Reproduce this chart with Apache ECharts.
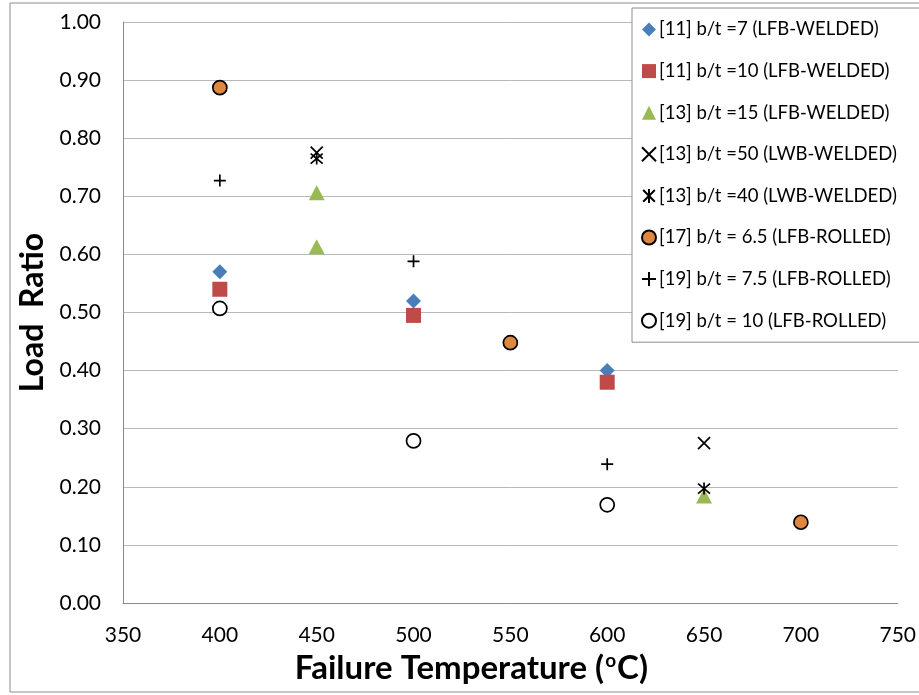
<!DOCTYPE html>
<html>
<head>
<meta charset="utf-8">
<script src="https://cdn.jsdelivr.net/npm/echarts@6/dist/echarts.min.js"></script>
<style>
  html, body { margin: 0; padding: 0; background: #fff; }
  #chart { width: 919px; height: 695px; }
</style>
</head>
<body>
<div id="chart"></div>
<script>
// 数据：每个系列一组 [温度, 荷载比]
const seriesNames = [
  '[11] b/t =7 (LFB-WELDED)',
  '[11] b/t =10 (LFB-WELDED)',
  '[13] b/t =15 (LFB-WELDED)',
  '[13] b/t =50 (LWB-WELDED)',
  '[13] b/t =40 (LWB-WELDED)',
  '[17] b/t = 6.5 (LFB-ROLLED)',
  '[19] b/t = 7.5 (LFB-ROLLED)',
  '[19] b/t = 10 (LFB-ROLLED)'
]
const bt7Welded = [[400, 0.57], [500, 0.52], [600, 0.40]]
const bt10Welded = [[400, 0.54], [500, 0.495], [600, 0.38]]
const bt15Welded = [[450, 0.706], [450, 0.613], [650, 0.184]]
const bt50Lwb = [[450, 0.775], [650, 0.275]]
const bt40Lwb = [[450, 0.765], [650, 0.197]]
const bt65Rolled = [[400, 0.887], [550, 0.448], [700, 0.139]]
const bt75Rolled = [[400, 0.727], [500, 0.588], [600, 0.239]]
const bt10Rolled = [[400, 0.507], [500, 0.279], [600, 0.169]]
const xTicks = [350, 400, 450, 500, 550, 600, 650, 700, 750]
const yTicks = [0, 0.1, 0.2, 0.3, 0.4, 0.5, 0.6, 0.7, 0.8, 0.9, 1.0]

const crossPath = 'path://M0,0L10,10M10,0L0,10'
const starPath = 'path://M0,0L10,10M10,0L0,10M5,-1L5,11'
const plusPath = 'path://M5,0L5,10M0,5L10,5'

const chart = echarts.init(document.getElementById('chart'))

// 线条型标记（×、*、+）
const lineStyleMark = (path, size) => ({
  symbol: path,
  symbolSize: size,
  itemStyle: { color: 'rgba(0,0,0,0)', borderColor: '#000', borderWidth: 1.7, opacity: 1 }
})

const option = {
  animation: false,
  textStyle: { fontFamily: 'Lato' },
  graphic: [
    {
      type: 'rect',
      shape: { x: 10, y: 3, width: 930, height: 689 },
      style: { fill: 'none', stroke: '#8c8c8c', lineWidth: 1 },
      z: -1
    }
  ],
  grid: { left: 123, right: 17, top: 22, bottom: 92 },
  xAxis: {
    type: 'value',
    min: 350,
    max: 750,
    interval: 50,
    name: 'Failure Temperature ({sup|o}C)',
    nameLocation: 'middle',
    nameGap: 45,
    nameTextStyle: {
      fontSize: 33,
      fontWeight: 'bold',
      color: '#000',
      fontFamily: 'Lato',
      padding: [0, 78, 0, 0],
      rich: {
        sup: { fontSize: 19, fontWeight: 'bold', color: '#000', padding: [0, 1, 16, 1], fontFamily: 'Lato' }
      }
    },
    axisLine: { show: true, lineStyle: { color: '#898989', width: 1 } },
    axisTick: { show: false },
    splitLine: { show: false },
    axisLabel: {
      fontSize: 21,
      color: '#000',
      margin: 22,
      formatter: (v) => (xTicks.includes(v) ? String(v) : '')
    }
  },
  yAxis: {
    type: 'value',
    min: 0,
    max: 1,
    interval: 0.1,
    name: 'Load  Ratio',
    nameLocation: 'middle',
    nameGap: 72,
    nameTextStyle: { fontSize: 32, fontWeight: 'bold', color: '#000', fontFamily: 'Lato' },
    axisLine: { show: true, lineStyle: { color: '#898989', width: 1 } },
    axisTick: { show: false },
    splitLine: { show: true, lineStyle: { color: '#b8b8b8', width: 1 } },
    axisLabel: {
      fontSize: 21,
      color: '#000',
      margin: 22,
      formatter: (v) => {
        const t = yTicks.find((k) => Math.abs(k - v) < 1e-6)
        return t === undefined ? '' : t.toFixed(2)
      }
    }
  },
  legend: {
    orient: 'vertical',
    left: 632,
    top: 8,
    padding: [12, 30, 12, 9],
    itemGap: 22.6,
    itemWidth: 14,
    itemHeight: 14,
    backgroundColor: '#fff',
    borderColor: '#8c8c8c',
    borderWidth: 1,
    textStyle: { fontSize: 18.5, color: '#000', fontFamily: 'Lato', padding: [0, 0, 0, -2] },
    data: seriesNames
  },
  series: [
    {
      name: seriesNames[0],
      type: 'scatter',
      data: bt7Welded,
      symbol: 'diamond',
      symbolSize: [15, 15],
      itemStyle: { color: '#4a7ebb', opacity: 1 }
    },
    {
      name: seriesNames[1],
      type: 'scatter',
      data: bt10Welded,
      symbol: 'rect',
      symbolSize: 15,
      itemStyle: { color: '#be4b48', opacity: 1 }
    },
    {
      name: seriesNames[2],
      type: 'scatter',
      data: bt15Welded,
      symbol: 'triangle',
      symbolSize: [16, 15],
      itemStyle: { color: '#98b954', opacity: 1 }
    },
    {
      name: seriesNames[3],
      type: 'scatter',
      data: bt50Lwb,
      ...lineStyleMark(crossPath, 12)
    },
    {
      name: seriesNames[4],
      type: 'scatter',
      data: bt40Lwb,
      ...lineStyleMark(starPath, 12)
    },
    {
      name: seriesNames[5],
      type: 'scatter',
      data: bt65Rolled,
      symbol: 'circle',
      symbolSize: 14,
      itemStyle: { color: '#e0873f', borderColor: '#000', borderWidth: 1.7, opacity: 1 }
    },
    {
      name: seriesNames[6],
      type: 'scatter',
      data: bt75Rolled,
      ...lineStyleMark(plusPath, 12)
    },
    {
      name: seriesNames[7],
      type: 'scatter',
      data: bt10Rolled,
      symbol: 'circle',
      symbolSize: 14,
      itemStyle: { color: '#fff', borderColor: '#000', borderWidth: 1.7, opacity: 1 }
    }
  ]
}

chart.setOption(option)
</script>
</body>
</html>
